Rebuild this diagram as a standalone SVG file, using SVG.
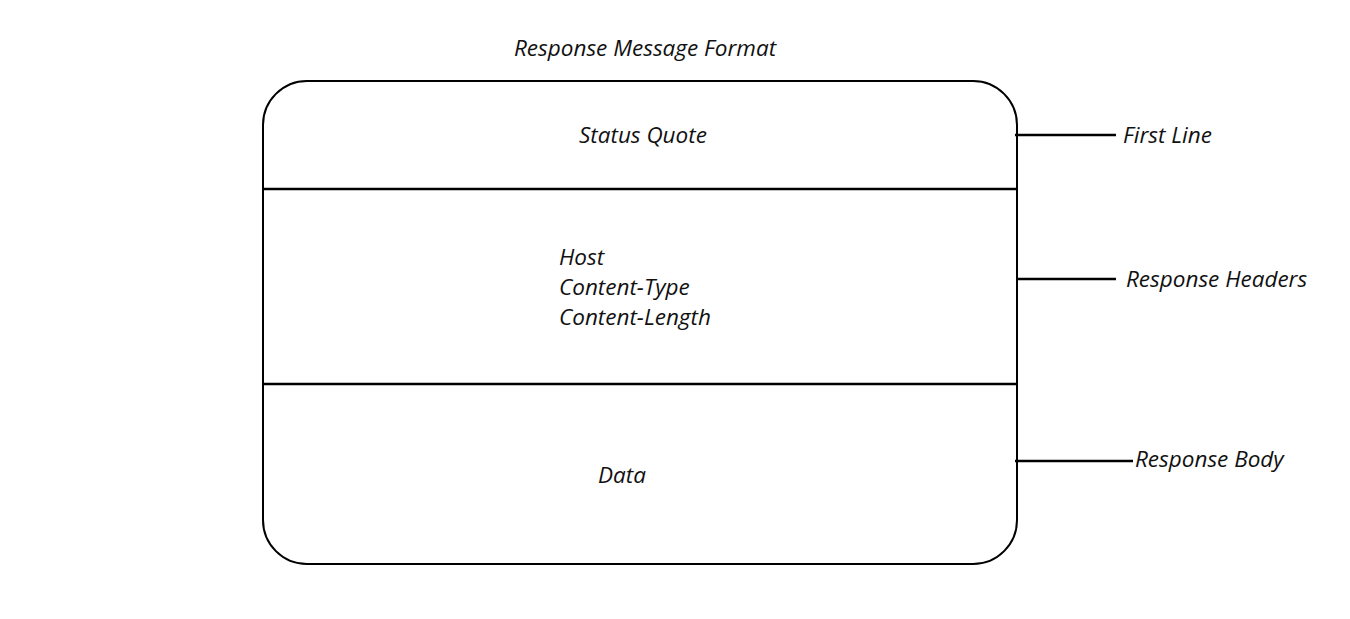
<svg xmlns="http://www.w3.org/2000/svg" width="1350" height="619" viewBox="0 0 1350 619">
  <style>
    text { font-family: "Open Sans", "Noto Sans", "DejaVu Sans", sans-serif; font-style: italic; font-size: 22.5px; fill: #111; }
    .frame { fill: none; stroke: #000; stroke-width: 2; }
    .div { stroke: #000; stroke-width: 2.5; }
    .lead { stroke: #000; stroke-width: 2.5; }
  </style>
  <rect width="1350" height="619" fill="#fff"/>

  <text id="title" x="514" y="56">Response Message Format</text>

  <g id="message">
    <rect class="frame" x="263" y="81" width="754" height="483" rx="44" ry="44"/>
    <line class="div" x1="263" y1="189" x2="1017" y2="189"/>
    <line class="div" x1="263" y1="384" x2="1017" y2="384"/>
  </g>

  <g id="first-line-section">
    <text x="579" y="143">Status Quote</text>
  </g>
  <g id="headers-section">
    <text x="559" y="265">Host</text>
    <text x="559" y="295">Content-Type</text>
    <text x="559" y="325">Content-Length</text>
  </g>
  <g id="body-section">
    <text x="598" y="483">Data</text>
  </g>

  <g id="connectors">
    <line class="lead" x1="1015" y1="135" x2="1116" y2="135"/>
    <line class="lead" x1="1017" y1="279" x2="1116" y2="279"/>
    <line class="lead" x1="1015" y1="461" x2="1133" y2="461"/>
  </g>

  <g id="labels">
    <text x="1123" y="143">First Line</text>
    <text x="1126" y="287">Response Headers</text>
    <text x="1135" y="467">Response Body</text>
  </g>
</svg>
